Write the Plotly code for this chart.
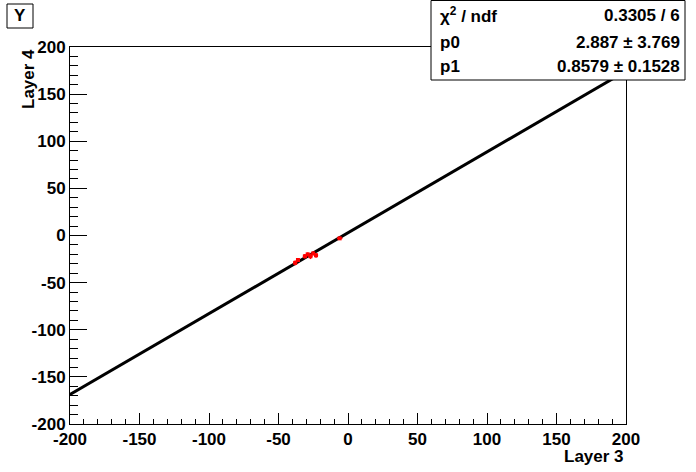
import plotly.graph_objects as go

# Data points (Layer 3 vs Layer 4)
pts_x = [-38, -36, -31, -29, -27, -25, -23, -6]
pts_y = [-29, -26, -22, -20, -22, -19, -21, -3]
err_x = [1.5, 1.0, 1.5, 1.0, 1.5, 1.0, 1.5, 2.0]
err_y = [2.5, 2.0, 2.5, 2.0, 3.0, 2.0, 2.5, 1.0]

# Fit line endpoints (p0 + p1*x)
fit_x = [-200, 200]
fit_y = [-168.7, 174.5]

tick_vals = [-200, -150, -100, -50, 0, 50, 100, 150, 200]
tick_text = ["-200", "-150", "-100", "-50", "0", "50", "100", "150", "200"]

stats_labels = ["χ<sup>2</sup> / ndf", "p0", "p1"]
stats_values = ["0.3305 / 6", "2.887 ± 3.769", "0.8579 ± 0.1528"]

W, H = 696, 472
L, R, T, B = 70, 70, 47, 48
pw = W - L - R
ph = H - T - B

def px(x):
    return (x - L) / pw

def py(y):
    return (H - B - y) / ph

FONT = "Liberation Sans"

fig = go.Figure()
fig.add_trace(go.Scatter(
    x=fit_x, y=fit_y, mode="lines",
    line=dict(color="black", width=3), hoverinfo="skip", showlegend=False,
))
fig.add_trace(go.Scatter(
    x=pts_x, y=pts_y, mode="markers",
    marker=dict(color="red", size=4, symbol="square"),
    error_x=dict(type="data", array=err_x, color="red", thickness=1.5, width=0),
    error_y=dict(type="data", array=err_y, color="red", thickness=1.5, width=0),
    showlegend=False,
))

axis_common = dict(
    range=[-200, 200], showgrid=False, zeroline=False,
    showline=True, linecolor="black", linewidth=1, mirror=True,
    ticks="inside", tickcolor="black", tickwidth=1,
    tickmode="array", tickvals=tick_vals, ticktext=tick_text,
    tickfont=dict(family=FONT, size=17, color="black", weight="bold"),
)

fig.update_layout(
    width=W, height=H,
    margin=dict(l=L, r=R, t=T, b=B),
    paper_bgcolor="white", plot_bgcolor="white",
    xaxis=dict(**axis_common, ticklen=11,
               minor=dict(ticks="inside", ticklen=5, dtick=10, tickcolor="black")),
    yaxis=dict(**axis_common, ticklen=17,
               minor=dict(ticks="inside", ticklen=8, dtick=10, tickcolor="black")),
)

# Stats box
fig.add_shape(type="rect", xref="paper", yref="paper",
              x0=px(431), x1=px(685), y0=py(80), y1=py(0.5),
              line=dict(color="black", width=1), fillcolor="white", layer="above")
rows_y = [15, 42, 67]
for lab, val, ry in zip(stats_labels, stats_values, rows_y):
    fig.add_annotation(xref="paper", yref="paper", x=px(438), y=py(ry),
                       text=lab, showarrow=False, xanchor="left", yanchor="middle",
                       font=dict(family=FONT, size=17, color="black", weight="bold"))
    fig.add_annotation(xref="paper", yref="paper", x=px(682), y=py(ry),
                       text=val, showarrow=False, xanchor="right", yanchor="middle",
                       font=dict(family=FONT, size=17, color="black", weight="bold"))

# Title box "Y"
fig.add_shape(type="rect", xref="paper", yref="paper",
              x0=px(7), x1=px(33), y0=py(28), y1=py(4),
              line=dict(color="black", width=1), fillcolor="white")
fig.add_annotation(xref="paper", yref="paper", x=px(20), y=py(16),
                   text="Y", showarrow=False, xanchor="center", yanchor="middle",
                   font=dict(family=FONT, size=17, color="black", weight="bold"))

# Axis titles
fig.add_annotation(xref="paper", yref="paper", x=px(28), y=1.0,
                   text="Layer 4", textangle=-90, showarrow=False,
                   xanchor="center", yanchor="top",
                   font=dict(family=FONT, size=17, color="black", weight="bold"))
fig.add_annotation(xref="paper", yref="paper", x=1.0, y=py(456),
                   text="Layer 3", showarrow=False,
                   xanchor="right", yanchor="middle",
                   font=dict(family=FONT, size=17, color="black", weight="bold"))

fig.write_html("out.html", config={"displayModeBar": False},
               post_script="document.body.style.margin='0';document.body.style.overflow='hidden';")
